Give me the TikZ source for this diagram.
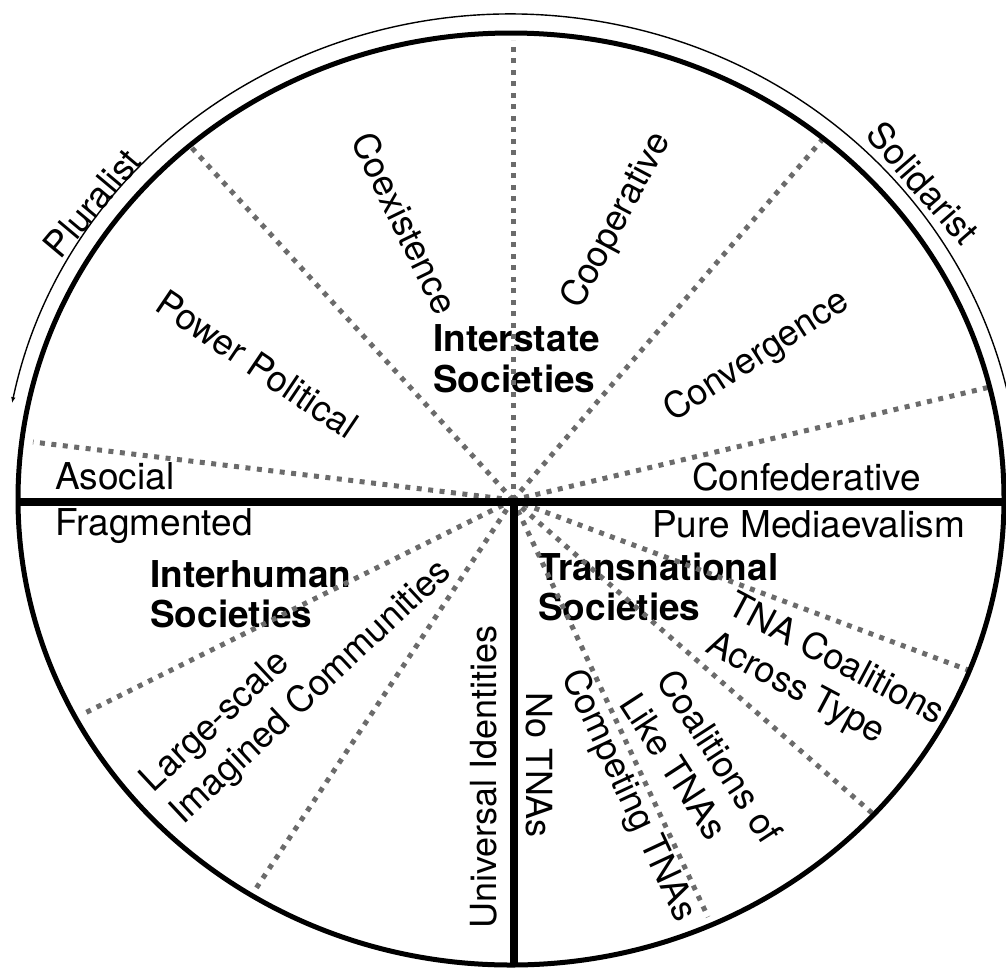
\documentclass[tikz,border=0pt]{standalone}
\usepackage{fontspec}
\setmainfont{TeX Gyre Heros}
\usetikzlibrary{arrows.meta}
\begin{document}
\begin{tikzpicture}[x=1pt,y=-1pt,
  lab/.style={font=\fontsize{36}{44}\selectfont, inner sep=0pt, align=left},
  hlab/.style={font=\fontsize{37}{42}\selectfont, inner sep=0pt, anchor=base west},
  blab/.style={font=\fontsize{37}{42}\selectfont\bfseries, inner sep=0pt, anchor=base west},
  dotline/.style={draw=black!58, line width=5pt, dash pattern=on 5pt off 6.5pt},
  rim/.style={line width=5pt},
  divider/.style={line width=8pt},
  scalearc/.style={line width=1.4pt}]
\useasboundingbox (0,0) rectangle (1006,967);
\clip (0,0) rectangle (1006,967);

% centres
\coordinate (O) at (513,500);
\coordinate (C) at (511,499);

% labels
\node[lab, rotate=50]  (plur) at (92,203)  {Pluralist};
\node[lab, rotate=-49] (soli) at (923,183) {Solidarist};
\node[lab, rotate=-64] (coex) at (405,223) {Coexistence};
\node[lab, rotate=62]  (coop) at (617,221) {Cooperative};
\node[lab, rotate=-34] (powp) at (257,364) {Power Political};
\node[lab, rotate=33]  (conv) at (757,357) {Convergence};
\node[hlab] (asoc) at (55,489)  {Asocial};
\node[hlab] (conf) at (692,490) {Confederative};
\node[blab] (is1) at (433,351) {Interstate};
\node[blab] (is2) at (433,392) {Societies};
\node[hlab] (frag) at (55,535) {Fragmented};
\node[blab] (ih1) at (150,587) {Interhuman};
\node[blab] (ih2) at (150,627) {Societies};
\node[lab, rotate=43] (lsic) at (297,677) {Large-scale\\Imagined Communities};
\node[lab, rotate=90] (ui) at (484,777) {Universal Identities};
\node[hlab] (pm) at (652,537) {Pure Mediaevalism};
\node[blab] (tn1) at (538,580) {Transnational};
\node[blab] (tn2) at (538,620) {Societies};
\node[lab, rotate=-28] (tcat) at (825,680) {TNA Coalitions\\Across Type};
\node[lab, rotate=-57] (colt) at (702,768) {Coalitions of\\Like TNAs};
\node[lab, rotate=-65] (ct) at (628,796) {Competing TNAs};
\node[lab, rotate=-90] (nt) at (539,765) {No TNAs};

% dotted spokes
\coordinate (u1) at (33,442);
\coordinate (u2) at (192,148);
\coordinate (u3) at (513,40);
\coordinate (u4) at (822,140);
\coordinate (u5) at (990,387);
\coordinate (l1) at (85,713);
\coordinate (l2) at (255,890);
\coordinate (r1) at (968,670);
\coordinate (r2) at (872,813);
\coordinate (r3) at (708,917);
\foreach \e in {u1,u2,u3,u4,u5,l1,l2,r1,r2,r3}
  \draw[dotline] (O) -- (\e);

% rim and dividers
\draw[rim] (C) ellipse [x radius=493, y radius=466];
\coordinate (W) at (18,502);
\coordinate (E) at (1004,502);
\coordinate (H) at (514,502);
\coordinate (S) at (514,966);
\draw[divider] (W) -- (E);
\draw[divider] (H) -- (S);

% outer scale arc
\draw[scalearc, {Latex[length=6pt,width=4.5pt]}-]
  (C) ++(-168.6:509 and 485) arc[start angle=-168.6, end angle=-11.4, x radius=509, y radius=485];
\end{tikzpicture}
\end{document}
